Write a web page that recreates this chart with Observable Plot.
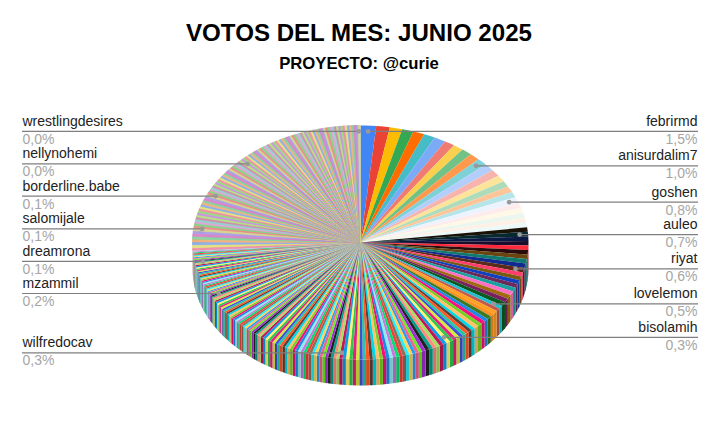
<!DOCTYPE html>
<html><head><meta charset="utf-8">
<script src="https://cdn.jsdelivr.net/npm/d3@7"></script>
<script src="https://cdn.jsdelivr.net/npm/@observablehq/plot@0.6"></script>
<style>
html,body{margin:0;padding:0;background:#fff;font-family:"Liberation Sans",Arial,sans-serif}
#t{height:80px;text-align:center;overflow:hidden}
#t .a{font-size:24.1px;font-weight:700;color:#000;padding-top:19px;line-height:28px}
#t .b{font-size:16.7px;font-weight:700;color:#000;line-height:20px;margin-top:7px}
</style></head><body>
<div id="t"><div class="a">VOTOS DEL MES: JUNIO 2025</div><div class="b">PROYECTO: @curie</div></div>
<div id="c"></div>
<script>
// Leading slices, read one by one (percent of the pie)
const topShares = [1.5,1.3,1.2,1.1,1.1,1.1,1.1,1.0,1.0,1.0,1.0,1.0,1.0,0.95,0.9,0.85,0.8,0.8,0.8,0.75,0.7,0.7,0.65,0.65];
// Remaining slices, as plateaus: share (percent) and how many slices hold it
const tailShares = [0.62,0.55,0.45,0.37,0.32,0.27,0.22,0.17,0.13,0.10,0.085,0.075,0.07];
const tailCounts = [10,9,9,16,25,30,32,29,38,50,65,73,100];
const topColors = ["#4285F4","#EA4335","#FBBC04","#34A853","#FF6D01","#46BDC6","#7BAAF7","#F07B72","#FCD04F","#71C287","#FF994D","#7ED1D7","#B3CEFB","#F7B4AE","#FDE49B","#AEDCBA","#FFC599","#B5E5E8","#ECF3FE","#FDECEB","#FFF8E6","#EBF6EE","#FFF0E6","#EDF8F9"];
const darkColors = ["#1a1206","#06282e","#0a1a44","#1c0c2c","#ff2a3c","#2a0c0c","#6a4510","#0f7a70","#102a90","#5c2a1a","#ff3d6a","#7a5a10","#1040c0","#6b2a5a","#1aa0a0","#ff70c0","#a06a10","#7a2060","#0a5a20","#20c0d0","#c05a50","#ffa020","#ff9020","#3a7a20"];
const cyclePalette = ["#1e88e5","#f50f7b","#76d025","#ffc06a","#00d8e8","#5d4037","#ff5722","#26c6a6","#3f51d5","#d8e83c","#e91e80","#32c850","#fff176","#0a9fe8","#c2185b","#a5e060","#ff8a80","#00a08c","#212121","#a030d0","#64f017","#f06292","#2d9cf0","#ffd54f","#20f0ff","#8d6e58","#f04038","#00e070","#c878d8","#90eaf0"];
const palePalette = ["#c48fe0","#96d878","#ee8aa2","#e0e078","#8aa9ea","#ecb078","#80d09c","#d87cc4","#a898e2","#d2d288","#ea8686","#7cd47e","#dc9fd0","#92cdcd","#cc88a6","#b0e07a"];
const labelNames = ["febrirmd","anisurdalim7","goshen","auleo","riyat","lovelemon","bisolamih","wilfredocav","mzammil","dreamrona","salomijale","borderline.babe","nellynohemi","wrestlingdesires"];
const labelPercents = ["1,5%","1,0%","0,8%","0,7%","0,6%","0,5%","0,3%","0,3%","0,2%","0,1%","0,1%","0,1%","0,0%","0,0%"];
// Where each labelled account sits in the ranking (percent of the way round)
const labelRanks = [0.7,13.1,19.0,23.9,28.9,34.4,41.1,51.8,67.4,72.3,77.0,81.9,87.5,99.8];

const W=718, H=364, cy=162, ry=117, depth=26/117, labelEdge=338/168, dotR=.95, paleFrom=.74, paleRun=3;
const values=[...topShares];
tailShares.forEach((s,i)=>{for(let k=0;k<tailCounts[i];k++)values.push(s)});
const total=d3.sum(values), TAU=2*Math.PI;
const nA=topColors.length, nB=nA+darkColors.length;
let acc=0;
const slices=values.map((v,i)=>{
  const a0=acc/total*TAU; acc+=v;
  const pale=acc/total>paleFrom;
  const color=i<nA?topColors[i]:i<nB?darkColors[i-nA]:pale?palePalette[Math.floor(i/paleRun)%palePalette.length]:cyclePalette[(i-nB)%cyclePalette.length];
  return {i,a0,a1:acc/total*TAU,color,pale};
});
const ends=slices.map(s=>s.a1/TAU*100);
const px=a=>Math.sin(a), py=a=>Math.cos(a);
const arcPts=(a0,a1)=>{const n=Math.max(1,Math.ceil((a1-a0)/.04));return d3.range(n+1).map(k=>a0+(a1-a0)*k/n)};
const topPts=[], palePts=[], rimPts=[];
for(const s of slices){
  const target=s.pale?palePts:topPts;
  target.push({z:s.i,x:0,y:0,color:s.color});
  for(const a of arcPts(s.a0,s.a1)) target.push({z:s.i,x:px(a),y:py(a),color:s.color});
  const b0=Math.max(s.a0,Math.PI/2), b1=Math.min(s.a1,3*Math.PI/2);
  if(b1>b0){
    const c=d3.color(s.color).darker(.5).formatHex(), pts=arcPts(b0,b1);
    for(const a of pts) rimPts.push({z:s.i,x:px(a),y:py(a),color:c});
    for(const a of pts.slice().reverse()) rimPts.push({z:s.i,x:px(a),y:py(a)-depth,color:c});
  }
}
const labels=labelNames.map((name,k)=>{
  const s=slices[Math.min(d3.bisectLeft(ends,labelRanks[k]),slices.length-1)];
  const a=(s.a0+s.a1)/2, x=dotR*px(a), right=k<7;
  return {name,pct:labelPercents[k],x,y:dotR*py(a),edge:right?labelEdge:-labelEdge,right};
});
const common={x:"edge",y:"y",fontFamily:"Liberation Sans, Arial, sans-serif",fontSize:14};
const rightLabels=labels.filter(d=>d.right), leftLabels=labels.filter(d=>!d.right);
const chart=Plot.plot({
  width:W,height:H,marginLeft:22,marginRight:20,marginTop:0,marginBottom:0,
  x:{domain:[-labelEdge,labelEdge],axis:null},
  y:{domain:[-1,1],range:[cy+ry,cy-ry],axis:null},
  color:{type:"identity"},
  style:{background:"transparent",overflow:"visible"},
  marks:[
    Plot.line(rimPts,{x:"x",y:"y",z:"z",fill:"color",stroke:"none",curve:"linear"}),
    Plot.line(topPts,{x:"x",y:"y",z:"z",fill:"color",stroke:"none",curve:"linear"}),
    Plot.line(palePts,{x:"x",y:"y",z:"z",fill:"color",stroke:"color",strokeWidth:.6,curve:"linear"}),
    Plot.ruleY(labels,{y:"y",x1:"edge",x2:"x",stroke:"#7f7f7f",strokeWidth:1.2}),
    Plot.dot(labels,{x:"x",y:"y",r:2.4,fill:"#999",stroke:"none"}),
    Plot.text(rightLabels,{...common,text:"name",textAnchor:"end",dx:-1,dy:-10,fill:"#222"}),
    Plot.text(rightLabels,{...common,text:"pct",textAnchor:"end",dx:-1,dy:8,fill:"#a6a6a6"}),
    Plot.text(leftLabels,{...common,text:"name",textAnchor:"start",dy:-10,fill:"#222"}),
    Plot.text(leftLabels,{...common,text:"pct",textAnchor:"start",dy:8,fill:"#a6a6a6"})
  ]
});
document.getElementById("c").append(chart);
</script></body></html>
